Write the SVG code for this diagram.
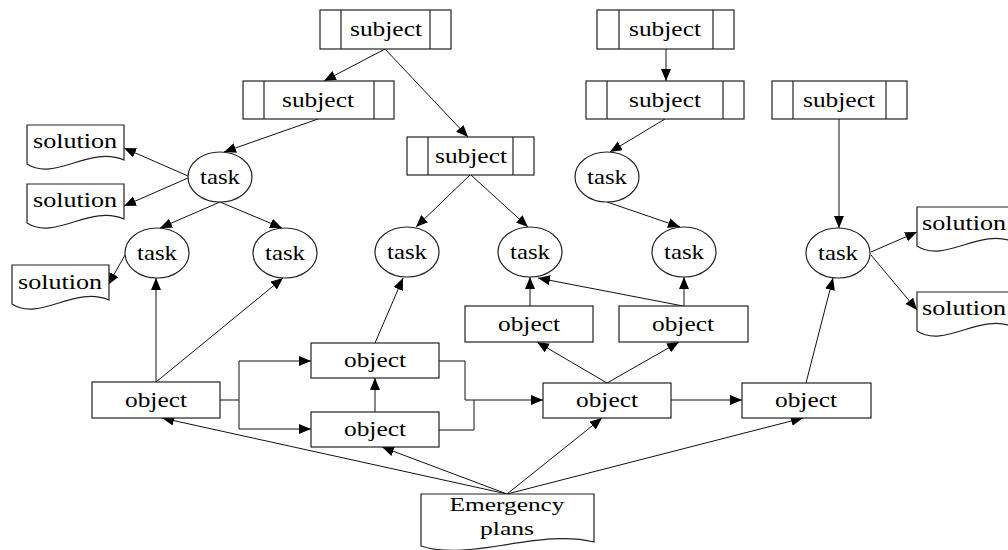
<svg xmlns="http://www.w3.org/2000/svg" width="1008" height="550" viewBox="0 0 1008 550">
<style>
.s{fill:#fff;stroke:#222;stroke-width:1.2}
.d{stroke:#222;stroke-width:1.2}
.t{font-family:'Liberation Serif','Times New Roman',Times,serif;font-size:21px;fill:#000;text-anchor:middle}
.e{fill:none;stroke:#111;stroke-width:1;marker-end:url(#ah)}
.p{fill:none;stroke:#111;stroke-width:1}
</style>
<defs>
<marker id="ah" markerUnits="userSpaceOnUse" markerWidth="13" markerHeight="11" refX="12" refY="5" orient="auto">
<path d="M0,0 L12,5 L0,10 z" fill="#000"/>
</marker>
<path id="doc" d="M0,0 H97 V35 C63,20 28,57 0,39 Z"/>
</defs>
<rect width="1008" height="550" fill="#fff"/>

<g id="connectors">
<path class="e" d="M385,49 L324,81"/>
<path class="e" d="M385,49 L468,137"/>
<path class="e" d="M318,119 L224,152"/>
<path class="e" d="M188,176 L124,148"/>
<path class="e" d="M188,178 L124,206"/>
<path class="e" d="M220,202 L160,228"/>
<path class="e" d="M220,202 L282,228"/>
<path class="e" d="M125,255 L108,285"/>
<path class="e" d="M156,382 L156,278"/>
<path class="e" d="M156,382 L283,278"/>
<path class="e" d="M220,400 H239 V361 H311"/>
<path class="e" d="M239,400 V429 H311"/>
<path class="e" d="M375,412 L375,378"/>
<path class="e" d="M375,343 L403,278"/>
<path class="e" d="M470,175 L416,227"/>
<path class="e" d="M471,175 L528,227"/>
<path class="e" d="M530,306 L530,277"/>
<path class="e" d="M684,306 L684,277"/>
<path class="e" d="M683,306 L538,278"/>
<path class="e" d="M607,202 L680,227"/>
<path class="e" d="M665,119 L610,152"/>
<path class="e" d="M666,49 L666,81"/>
<path class="e" d="M607,383 L537,342"/>
<path class="e" d="M607,383 L679,342"/>
<path class="e" d="M439,361 H465 V400 H543"/>
<path class="p" d="M439,430 H474 V400"/>
<path class="e" d="M671,400 L742,400"/>
<path class="e" d="M806,383 L833,278"/>
<path class="e" d="M839,119 L839,228"/>
<path class="e" d="M871,252 L917,232"/>
<path class="e" d="M871,255 L917,310"/>
<path class="e" d="M507,494 L162,418"/>
<path class="e" d="M507,494 L382,447"/>
<path class="e" d="M507,494 L602,418"/>
<path class="e" d="M507,494 L803,418"/>
</g>

<g id="subject1"><rect class="s" x="320" y="10" width="131" height="39"/><line class="d" x1="341" y1="10" x2="341" y2="49"/><line class="d" x1="430" y1="10" x2="430" y2="49"/><text class="t" x="386" y="36" textLength="72" lengthAdjust="spacingAndGlyphs">subject</text></g>
<g id="subject2"><rect class="s" x="243" y="81" width="151" height="38"/><line class="d" x1="264" y1="81" x2="264" y2="119"/><line class="d" x1="374" y1="81" x2="374" y2="119"/><text class="t" x="318" y="107" textLength="72" lengthAdjust="spacingAndGlyphs">subject</text></g>
<g id="subject3"><rect class="s" x="407" y="137" width="127" height="38"/><line class="d" x1="428" y1="137" x2="428" y2="175"/><line class="d" x1="513" y1="137" x2="513" y2="175"/><text class="t" x="471" y="163" textLength="72" lengthAdjust="spacingAndGlyphs">subject</text></g>
<g id="subject4"><rect class="s" x="597" y="10" width="137" height="39"/><line class="d" x1="619" y1="10" x2="619" y2="49"/><line class="d" x1="713" y1="10" x2="713" y2="49"/><text class="t" x="665" y="36" textLength="72" lengthAdjust="spacingAndGlyphs">subject</text></g>
<g id="subject5"><rect class="s" x="586" y="81" width="158" height="38"/><line class="d" x1="607" y1="81" x2="607" y2="119"/><line class="d" x1="723" y1="81" x2="723" y2="119"/><text class="t" x="665" y="107" textLength="72" lengthAdjust="spacingAndGlyphs">subject</text></g>
<g id="subject6"><rect class="s" x="772" y="81" width="135" height="38"/><line class="d" x1="793" y1="81" x2="793" y2="119"/><line class="d" x1="886" y1="81" x2="886" y2="119"/><text class="t" x="839" y="107" textLength="72" lengthAdjust="spacingAndGlyphs">subject</text></g>

<g id="task1"><ellipse class="s" cx="220" cy="177" rx="32" ry="25"/><text class="t" x="220" y="184" textLength="40" lengthAdjust="spacingAndGlyphs">task</text></g>
<g id="task2"><ellipse class="s" cx="157" cy="253" rx="32" ry="25"/><text class="t" x="157" y="260" textLength="40" lengthAdjust="spacingAndGlyphs">task</text></g>
<g id="task3"><ellipse class="s" cx="285" cy="253" rx="32" ry="25"/><text class="t" x="285" y="260" textLength="40" lengthAdjust="spacingAndGlyphs">task</text></g>
<g id="task4"><ellipse class="s" cx="407" cy="252" rx="32" ry="25"/><text class="t" x="407" y="259" textLength="40" lengthAdjust="spacingAndGlyphs">task</text></g>
<g id="task5"><ellipse class="s" cx="530" cy="252" rx="32" ry="25"/><text class="t" x="530" y="259" textLength="40" lengthAdjust="spacingAndGlyphs">task</text></g>
<g id="task6"><ellipse class="s" cx="607" cy="177" rx="32" ry="25"/><text class="t" x="607" y="184" textLength="40" lengthAdjust="spacingAndGlyphs">task</text></g>
<g id="task7"><ellipse class="s" cx="684" cy="252" rx="32" ry="25"/><text class="t" x="684" y="259" textLength="40" lengthAdjust="spacingAndGlyphs">task</text></g>
<g id="task8"><ellipse class="s" cx="838" cy="253" rx="32" ry="25"/><text class="t" x="838" y="260" textLength="40" lengthAdjust="spacingAndGlyphs">task</text></g>

<g id="solution1"><use href="#doc" class="s" x="27" y="125"/><text class="t" x="75" y="148" textLength="84" lengthAdjust="spacingAndGlyphs">solution</text></g>
<g id="solution2"><use href="#doc" class="s" x="27" y="184"/><text class="t" x="75" y="207" textLength="84" lengthAdjust="spacingAndGlyphs">solution</text></g>
<g id="solution3"><use href="#doc" class="s" x="12" y="265"/><text class="t" x="60" y="289" textLength="84" lengthAdjust="spacingAndGlyphs">solution</text></g>
<g id="solution4"><use href="#doc" class="s" x="917" y="207"/><text class="t" x="964" y="230" textLength="84" lengthAdjust="spacingAndGlyphs">solution</text></g>
<g id="solution5"><use href="#doc" class="s" x="917" y="292"/><text class="t" x="964" y="315" textLength="84" lengthAdjust="spacingAndGlyphs">solution</text></g>

<g id="object1"><rect class="s" x="92" y="382" width="128" height="36"/><text class="t" x="156" y="407" textLength="62" lengthAdjust="spacingAndGlyphs">object</text></g>
<g id="object2"><rect class="s" x="311" y="343" width="128" height="35"/><text class="t" x="375" y="367" textLength="62" lengthAdjust="spacingAndGlyphs">object</text></g>
<g id="object3"><rect class="s" x="311" y="412" width="128" height="35"/><text class="t" x="375" y="436" textLength="62" lengthAdjust="spacingAndGlyphs">object</text></g>
<g id="object4"><rect class="s" x="465" y="306" width="128" height="36"/><text class="t" x="529" y="331" textLength="62" lengthAdjust="spacingAndGlyphs">object</text></g>
<g id="object5"><rect class="s" x="619" y="306" width="129" height="36"/><text class="t" x="683" y="331" textLength="62" lengthAdjust="spacingAndGlyphs">object</text></g>
<g id="object6"><rect class="s" x="543" y="383" width="128" height="35"/><text class="t" x="607" y="407" textLength="62" lengthAdjust="spacingAndGlyphs">object</text></g>
<g id="object7"><rect class="s" x="742" y="383" width="129" height="35"/><text class="t" x="806" y="407" textLength="62" lengthAdjust="spacingAndGlyphs">object</text></g>

<g id="emergency-plans"><path class="s" d="M421,494 H594 V542 C540,528 470,562 421,546 Z"/><text class="t" x="507" y="511" style="font-size:19px" textLength="115" lengthAdjust="spacingAndGlyphs">Emergency</text><text class="t" x="507" y="535" style="font-size:19px" textLength="54" lengthAdjust="spacingAndGlyphs">plans</text></g>
</svg>
